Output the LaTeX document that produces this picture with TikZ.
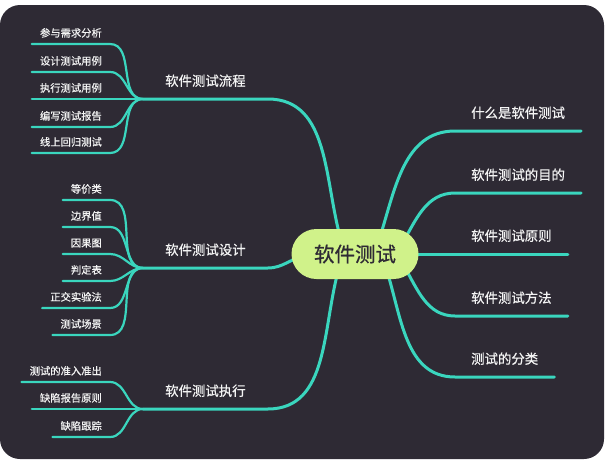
\documentclass[tikz,border=0pt]{standalone}
\usepackage{fontspec}
\setmainfont{Noto Sans CJK SC}[BoldFont={* Bold}]
\newfontfamily\labelfont{Noto Sans CJK SC}[FakeBold=0.6]
\usetikzlibrary{shapes.misc}
\definecolor{bgdark}{HTML}{2E2A34}
\definecolor{branch}{HTML}{3AD6BE}
\definecolor{rootgreen}{HTML}{D0F28A}
\definecolor{labelwhite}{HTML}{F4F4F4}
\tikzset{
  rootnode/.style={rounded rectangle,fill=rootgreen,text=bgdark,
    minimum width=127pt,minimum height=50pt,inner sep=0pt,
    font=\fontsize{20.5}{24}\selectfont\labelfont},
  topic/.style={text=labelwhite,font=\fontsize{13.4}{16}\selectfont\labelfont,
    inner xsep=16pt,inner ysep=10pt,text height=10.5pt,text depth=3pt},
  maintopic/.style={topic,inner xsep=22pt},
  leaf/.style={text=labelwhite,font=\fontsize{10.3}{12}\selectfont\labelfont,
    inner xsep=8pt,inner ysep=5pt,text height=8pt,text depth=2pt},
  mainline/.style={draw=branch,line width=3pt,line cap=round},
  subline/.style={draw=branch,line width=2.2pt,line cap=round}
}
\begin{document}
\begin{tikzpicture}[x=1pt,y=-1pt]
\useasboundingbox (0,0) rectangle (610,469);
\fill[bgdark,rounded corners=20pt] (0,5) rectangle (604,459);

\node[topic,anchor=south west] (what) at (455,131) {什么是软件测试};
\node[topic,anchor=south west] (goal) at (455,193) {软件测试的目的};
\node[topic,anchor=south west] (rule) at (455,254) {软件测试原则};
\node[topic,anchor=south west] (method) at (455,316) {软件测试方法};
\node[topic,anchor=south west] (kind) at (455,377) {测试的分类};

\node[maintopic,anchor=south west] (flow) at (143,99) {软件测试流程};
\node[maintopic,anchor=south west] (design) at (143,268) {软件测试设计};
\node[maintopic,anchor=south west] (exec) at (143,409) {软件测试执行};

\foreach \name/\txt/\y in {f1/参与需求分析/44,f2/设计测试用例/72,
    f3/执行测试用例/99,f4/编写测试报告/127,f5/线上回归测试/153}
{
  \node[leaf,anchor=south east] (\name) at (110,\y) {\txt};
  \draw[subline] (\name.south west) -- (\name.south east)
    to[out=0,in=180] (flow.south west);
}
\foreach \name/\txt/\y in {d1/等价类/200,d2/边界值/227,d3/因果图/254,
    d4/判定表/281,d5/正交实验法/308,d6/测试场景/335}
{
  \node[leaf,anchor=south east] (\name) at (110,\y) {\txt};
  \draw[subline] (\name.south west) -- (\name.south east)
    to[out=0,in=180] (design.south west);
}
\foreach \name/\txt/\y in {e1/测试的准入准出/382,e2/缺陷报告原则/409,
    e3/缺陷跟踪/437}
{
  \node[leaf,anchor=south east] (\name) at (110,\y) {\txt};
  \draw[subline] (\name.south west) -- (\name.south east)
    to[out=0,in=180] (exec.south west);
}

\coordinate (hub) at (355,254);
\draw[mainline] ([xshift=-14pt,yshift=14pt]hub) to[out=106,in=0]
  (flow.south east) -- (flow.south west);
\draw[mainline] ([xshift=-50pt,yshift=-2pt]hub) to[out=190,in=0]
  (design.south east) -- (design.south west);
\draw[mainline] ([xshift=-16pt,yshift=-14pt]hub) to[out=-106,in=0]
  (exec.south east) -- (exec.south west);
\draw[mainline] ([xshift=24pt,yshift=14pt]hub) to[out=72,in=180]
  (what.south west) -- (what.south east);
\draw[mainline] ([xshift=47pt,yshift=10pt]hub) to[out=60,in=180]
  (goal.south west) -- (goal.south east);
\draw[mainline] ([xshift=45pt]hub) -- (rule.south west) -- (rule.south east);
\draw[mainline] ([xshift=49pt,yshift=-12pt]hub) to[out=-60,in=180]
  (method.south west) -- (method.south east);
\draw[mainline] ([xshift=31pt,yshift=-14pt]hub) to[out=-72,in=180]
  (kind.south west) -- (kind.south east);

\node[rootnode] (root) at (hub) {软件测试};
\end{tikzpicture}
\end{document}
